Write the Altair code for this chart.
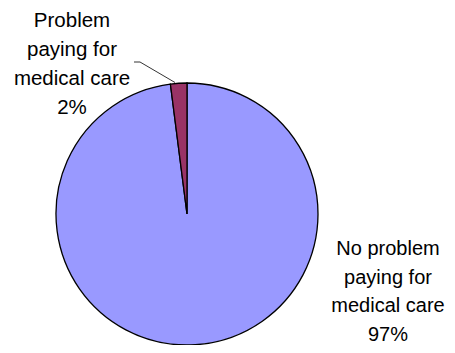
import altair as alt
import pandas as pd

categories = ["No problem paying for medical care", "Problem paying for medical care"]
values = [97, 2]
percent_labels = ["97%", "2%"]
colors = ["#9999FF", "#993366"]
order = [0, 1]

df = pd.DataFrame({"category": categories, "value": values, "order": order})

FONT = "Liberation Sans"

pie = alt.Chart(df).mark_arc(
    stroke="black", strokeWidth=1.3, radius=131
).encode(
    theta=alt.Theta("value:Q", stack=True),
    order=alt.Order("order:Q"),
    color=alt.Color("category:N", scale=alt.Scale(domain=categories, range=colors), legend=None),
    x=alt.value(179),
    y=alt.value(206),
)

lbl_df = pd.DataFrame({
    "text": [
        ["Problem", "paying for", "medical care", percent_labels[1]],
        ["No problem", "paying for", "medical care", percent_labels[0]],
    ],
    "which": ["small", "big"],
})

left_text = alt.Chart(lbl_df).transform_filter(alt.datum.which == "small").mark_text(
    font=FONT, fontSize=20.5, lineHeight=29.2, align="center", baseline="alphabetic", color="black"
).encode(text="text", x=alt.value(64), y=alt.value(18.8))

right_text = alt.Chart(lbl_df).transform_filter(alt.datum.which == "big").mark_text(
    font=FONT, fontSize=20, lineHeight=28.5, align="center", baseline="alphabetic", color="black"
).encode(text="text", x=alt.value(380), y=alt.value(247.2))

lead1 = alt.Chart(df.head(1)).mark_rule(color="black", strokeWidth=0.8).encode(
    x=alt.value(126), x2=alt.value(132), y=alt.value(54), y2=alt.value(54)
)
lead2 = alt.Chart(df.head(1)).mark_rule(color="black", strokeWidth=0.8).encode(
    x=alt.value(132), x2=alt.value(167), y=alt.value(54), y2=alt.value(74.5)
)

chart = alt.layer(pie, lead1, lead2, left_text, right_text).properties(
    width=439, height=337, padding=0, autosize=alt.AutoSizeParams(type="none")
).configure_view(stroke=None)

chart.save("out.html", embed_options={"renderer": "svg", "actions": False})
